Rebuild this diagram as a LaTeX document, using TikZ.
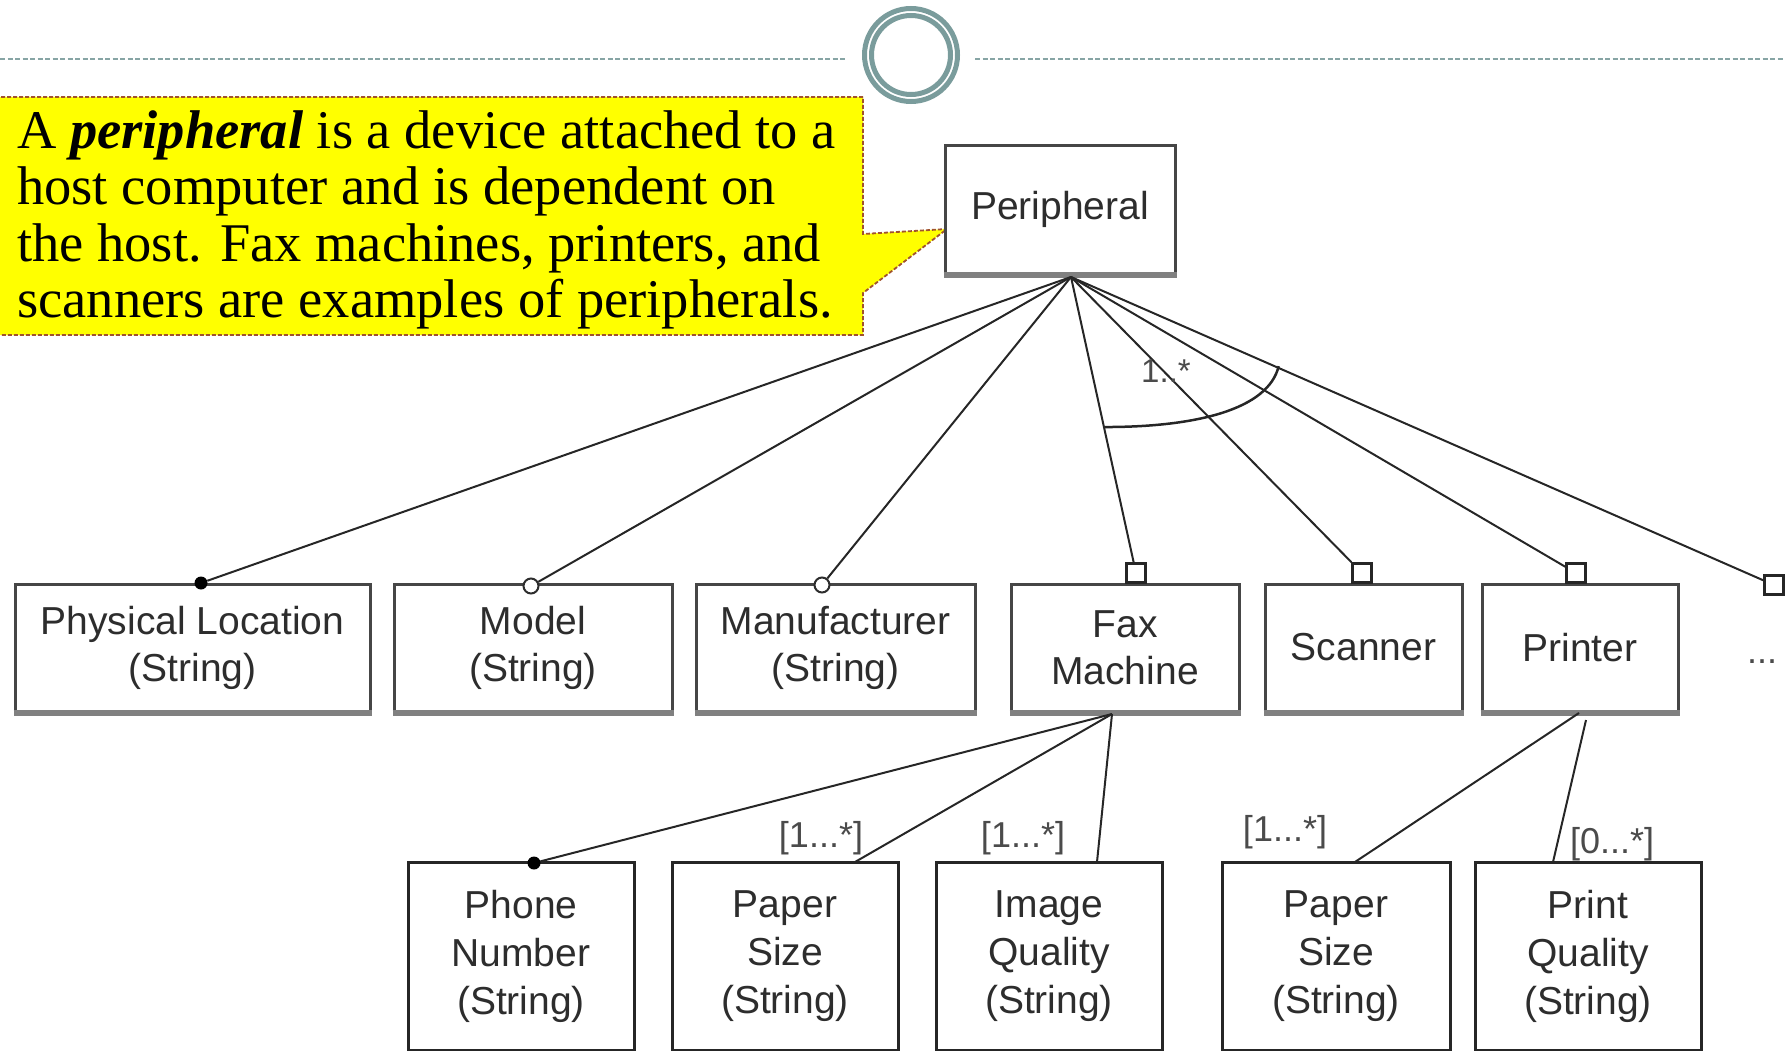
\documentclass[tikz,border=0pt]{standalone}
\usepackage{fontspec}
\setmainfont{Liberation Serif}
\newfontfamily\boxfont{Liberation Sans}
\usetikzlibrary{calc}
\definecolor{ringteal}{RGB}{122,156,156}
\definecolor{rulegray}{RGB}{135,165,165}
\definecolor{calloutedge}{RGB}{160,82,45}
\definecolor{calloutfill}{RGB}{255,255,0}
\definecolor{boxedge}{RGB}{70,70,70}
\definecolor{boxshade}{RGB}{128,128,128}
\definecolor{inkgray}{RGB}{45,45,45}
\definecolor{labelgray}{RGB}{75,75,75}
\begin{document}
\begin{tikzpicture}[x=1pt,y=-1pt,
  entity/.style={draw=boxedge, line width=3pt, fill=white, inner sep=0pt, align=center,
    font=\boxfont\fontsize{39}{47}\selectfont, text=inkgray},
  attrbox/.style={draw=black!85, line width=3pt, fill=white, inner sep=0pt, align=center,
    font=\boxfont\fontsize{39}{48}\selectfont, text=inkgray},
  shadeedge/.style={draw=boxshade, line width=6pt},
  conn/.style={draw=black!85, line width=2pt},
  dotmark/.style={circle, fill=black, inner sep=0pt, minimum size=13pt},
  ringmark/.style={circle, draw=inkgray, line width=2pt, fill=white, inner sep=0pt, minimum size=15pt},
  sqmark/.style={rectangle, draw=black!85, line width=2.5pt, fill=white, inner sep=0pt, minimum size=19pt},
  mult/.style={font=\boxfont\fontsize{36}{40}\selectfont, text=labelgray, inner sep=0pt},
  rulerline/.style={draw=rulegray, line width=1.5pt, dash pattern=on 5pt off 2.5pt},
  ring/.style={draw=ringteal, line width=5pt}
]
\useasboundingbox (0,0) rectangle (1785,1051);
\clip (0,0) rectangle (1785,1051);

% header rule with the double ring
\draw[rulerline] (0,59) -- (845,59);
\draw[rulerline] (975,59) -- (1785,59);
\draw[ring] (911,55) circle[radius=46.5pt];
\draw[ring] (911,55) circle[radius=39.5pt];

% yellow callout
\draw[draw=calloutedge, fill=calloutfill, line width=1.8pt, dash pattern=on 4pt off 2pt]
  (-5,97) -- (863,97) -- (863,234) -- (947,229) -- (863,293) -- (863,335) -- (-5,335) -- cycle;
\node[anchor=north west, align=left, inner sep=0pt, font=\fontsize{54.5}{56.5}\selectfont] (note) at (17,110)
  {A \textbf{\textit{peripheral}} is a device attached to a\\
   host computer and is dependent on\\
   the host. Fax machines, printers, and\\
   scanners are examples of peripherals.};

% root entity
\node[entity, minimum width=230pt, minimum height=127pt] (per) at (1060,209.5) {Peripheral};
\coordinate (hub) at (1071,277);

% second row
\node[entity, minimum width=355pt, minimum height=127pt] (loc)  at (192.5,647.5) {Physical Location\\(String)};
\node[entity, minimum width=278pt, minimum height=127pt] (mod)  at (533,647.5)   {Model\\(String)};
\node[entity, minimum width=279pt, minimum height=127pt] (man)  at (835.5,647.5) {Manufacturer\\(String)};
\node[entity, minimum width=228pt, minimum height=127pt] (fax)  at (1125,647.5)  {Fax\\Machine};
\node[entity, minimum width=197pt, minimum height=127pt] (scan) at (1363.5,647.5){Scanner};
\node[entity, minimum width=196pt, minimum height=127pt] (prn)  at (1580,647.5)  {Printer};
\node[font=\boxfont\fontsize{36}{40}\selectfont, text=labelgray, inner sep=0pt] (more) at (1762,662) {...};

\foreach \n in {per,loc,mod,man,fax,scan,prn}
  \draw[shadeedge] (\n.south west) -- (\n.south east);

% third row
\node[attrbox, minimum width=226pt, minimum height=188pt] (phone) at (521,956)  {Phone\\Number\\(String)};
\node[attrbox, minimum width=226pt, minimum height=188pt] (psa)   at (785,956)  {Paper\\Size\\(String)};
\node[attrbox, minimum width=226pt, minimum height=188pt] (iq)    at (1049,956) {Image\\Quality\\(String)};
\node[attrbox, minimum width=228pt, minimum height=188pt] (psb)   at (1336,956) {Paper\\Size\\(String)};
\node[attrbox, minimum width=226pt, minimum height=188pt] (pq)    at (1588,956) {Print\\Quality\\(String)};

% association ends on the second row
\node[dotmark]  (locend)  at (201,583) {};
\node[ringmark] (modend)  at (531,586) {};
\node[ringmark] (manend)  at (822,585) {};
\node[sqmark]   (faxend)  at (1136,573) {};
\node[sqmark]   (scanend) at (1362,573) {};
\node[sqmark]   (prnend)  at (1576,573) {};
\node[sqmark]   (moreend) at (1774,585) {};

\foreach \e in {locend,modend,manend,faxend,scanend,prnend,moreend}
  \draw[conn] (hub) -- (\e);

% 1..* group arc across the sub-type links
\coordinate (arcA) at ($(hub)!0.526!(faxend.north)$);
\coordinate (arcB) at ($(hub)!0.30!(moreend.north west)$);
\draw[conn, line width=2.5pt] (arcA) .. controls (1195,427) and (1268,410) .. (arcB);
\node[mult, font=\boxfont\fontsize{33}{36}\selectfont] (grp) at (1166,371) {1..*};

% fax machine attributes
\coordinate (faxhub) at (1112,714);
\node[dotmark] (phoneend) at (534,863) {};
\coordinate (psaend) at (855,862);
\coordinate (iqend)  at (1097,862);
\draw[conn] (faxhub) -- (phoneend);
\draw[conn] (faxhub) -- (psaend);
\draw[conn] (faxhub) -- (iqend);
\node[mult] (mpsa) at (821,838) {[1...*]};
\node[mult] (miq)  at (1023,838) {[1...*]};

% printer attributes
\coordinate (prnhub)  at (1579,713);
\coordinate (prnhubb) at (1586,720);
\coordinate (psbend)  at (1355,862);
\coordinate (pqend)   at (1553,862);
\draw[conn] (prnhub) -- (psbend);
\draw[conn] (prnhubb) -- (pqend);
\node[mult] (mpsb) at (1285,832) {[1...*]};
\node[mult] (mpq)  at (1612,844) {[0...*]};
\end{tikzpicture}
\end{document}
